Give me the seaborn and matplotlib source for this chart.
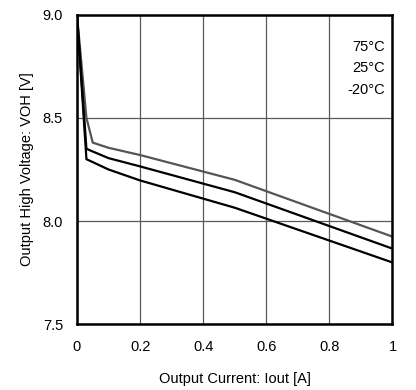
import matplotlib
matplotlib.use("Agg")
import matplotlib.pyplot as plt
import seaborn as sns
import pandas as pd

sns.set_theme(style="white")
plt.rcParams['font.family'] = ['Liberation Sans', 'DejaVu Sans']

# Data
x_75 = [0.0, 0.03, 0.05, 0.1, 0.2, 0.5, 1.0]
v_75 = [9.0, 8.50, 8.38, 8.355, 8.32, 8.20, 7.925]
x_25 = [0.0, 0.03, 0.1, 0.2, 0.5, 1.0]
v_25 = [9.0, 8.35, 8.305, 8.265, 8.14, 7.867]
x_m20 = [0.0, 0.03, 0.1, 0.2, 0.5, 1.0]
v_m20 = [9.0, 8.30, 8.25, 8.197, 8.065, 7.80]
labels = ["75°C", "25°C", "-20°C"]
x_ticks = [0, 0.2, 0.4, 0.6, 0.8, 1.0]
x_ticklabels = ["0", "0.2", "0.4", "0.6", "0.8", "1"]
y_ticks = [7.5, 8.0, 8.5, 9.0]
y_ticklabels = ["7.5", "8.0", "8.5", "9.0"]

frames = []
for lab, xs, vs in zip(labels, [x_75, x_25, x_m20], [v_75, v_25, v_m20]):
    frames.append(pd.DataFrame({"I": xs, "V": vs, "T": lab}))
df = pd.concat(frames, ignore_index=True)

fig = plt.figure(figsize=(4.16, 3.9), dpi=100)
ax = fig.add_axes([0.185, 0.168, 0.7585, 0.7948])

palette = {"75°C": "#555555", "25°C": "#000000", "-20°C": "#000000"}
sns.lineplot(data=df, x="I", y="V", hue="T", palette=palette, estimator=None,
             sort=False, linewidth=1.6, legend=False, ax=ax)

fs = 10.5
ax.set_xlim(0, 1)
ax.set_ylim(7.5, 9.0)
ax.set_xticks(x_ticks)
ax.set_xticklabels(x_ticklabels)
ax.set_yticks(y_ticks)
ax.set_yticklabels(y_ticklabels)
ax.tick_params(axis='x', length=0, labelsize=fs, pad=11, colors='black')
ax.tick_params(axis='y', length=0, labelsize=fs, pad=10, colors='black')
ax.grid(True, color='#5a5a5a', linewidth=0.9)
ax.set_axisbelow(True)
for s in ax.spines.values():
    s.set_color('black')
    s.set_linewidth(1.8)
    s.set_visible(True)

ax.set_xlabel("Output Current: Iout [A]", fontsize=fs, labelpad=13, color='black')
ax.set_ylabel("Output High Voltage: VOH [V]", fontsize=fs, labelpad=6, color='black')

ys = [0.895, 0.827, 0.756]
for lab, yy in zip(labels, ys):
    ax.text(0.976, yy, lab, transform=ax.transAxes, ha='right', va='center',
            fontsize=fs, color='black')

fig.savefig("out.png", dpi=100)
